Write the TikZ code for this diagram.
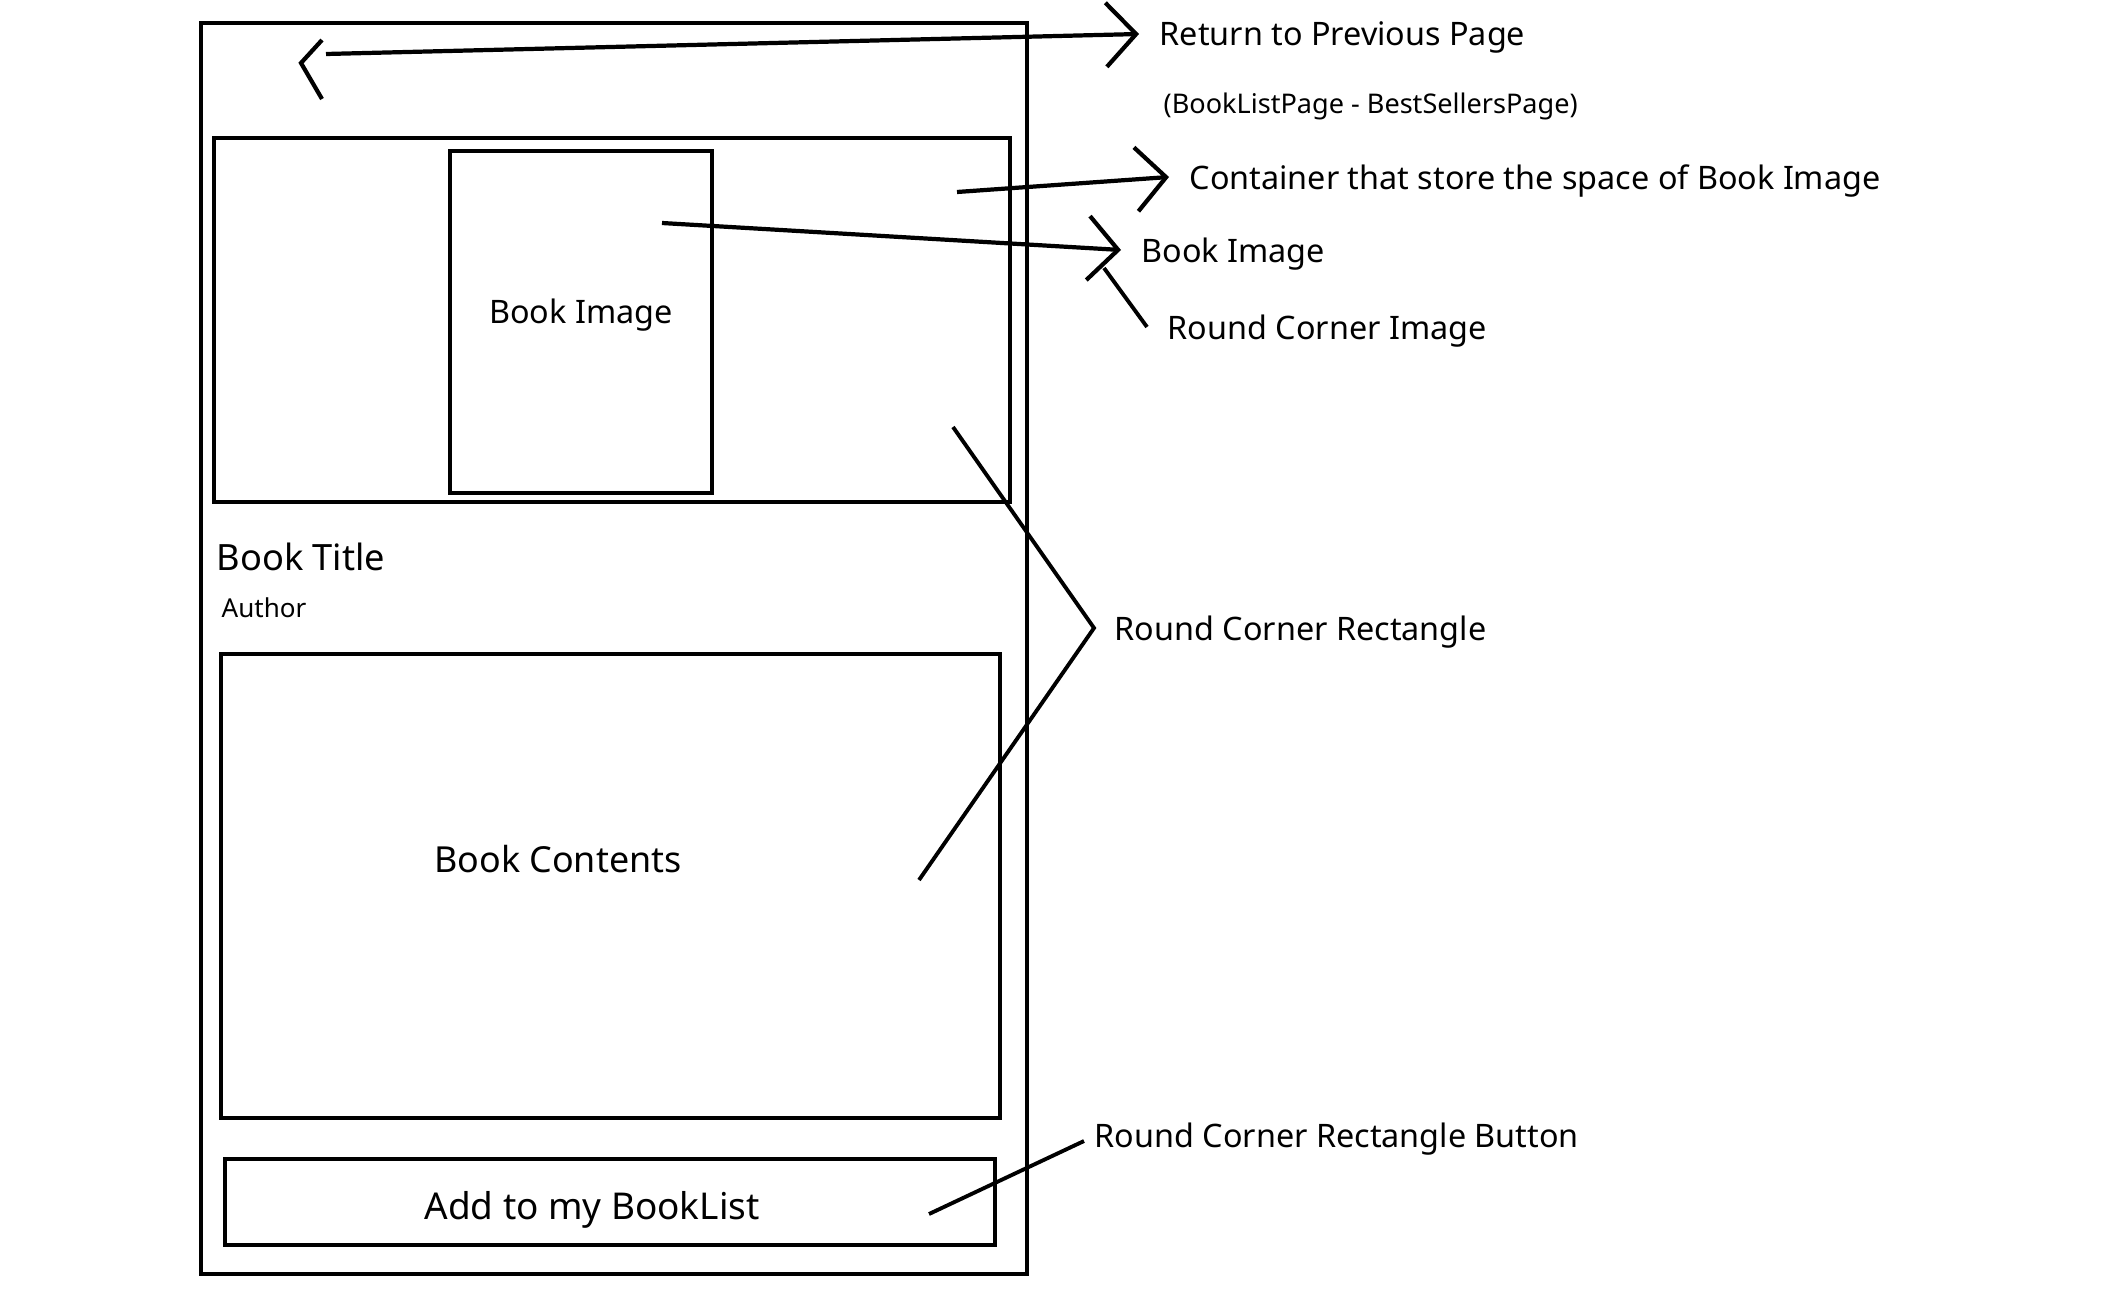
\documentclass[tikz,border=0pt]{standalone}
\usepackage{fontspec}
\setmainfont{Noto Sans}
\usetikzlibrary{arrows.meta}
\begin{document}
\begin{tikzpicture}[x=0.01cm,y=-0.01cm,
  box/.style={draw,line width=1.1pt,anchor=north west,inner sep=0pt},
  lbl/.style={anchor=west,inner xsep=0.2cm,inner ysep=0pt,text depth=0pt,font=\fontsize{9.2}{11}\selectfont},
  ptr/.style={line width=1.2pt,-{Straight Barb[length=0.3cm,width=0.64cm,line width=1.2pt]}},
  lead/.style={line width=1.1pt}]
  \useasboundingbox (0,0) rectangle (2104,1300);
  % phone screen
  \node[box,minimum width=8.26cm,minimum height=12.50cm] (phone) at (199,21) {};
  \draw[line width=1.2pt] (322,40) -- (301,63) -- (322,99);
  \node[box,minimum width=7.96cm,minimum height=3.64cm] (imgbox) at (212,136) {};
  \node[box,minimum width=2.62cm,minimum height=3.42cm] (bookimg) at (448,149) {};
  \node[font=\fontsize{9.2}{11}\selectfont] (bookimgtxt) at (581,315) {Book Image};
  \node[anchor=west,inner sep=0pt,font=\fontsize{10.3}{12}\selectfont] (title) at (216,557) {Book Title};
  \node[anchor=west,inner sep=0pt,font=\fontsize{7.4}{9}\selectfont] (author) at (221,608) {Author};
  \node[box,minimum width=7.79cm,minimum height=4.64cm] (contents) at (219,652) {};
  \node[font=\fontsize{10.2}{12}\selectfont] (contentstxt) at (558,859) {Book Contents};
  \node[box,minimum width=7.70cm,minimum height=0.86cm] (button) at (223,1157) {};
  \node[font=\fontsize{10.5}{12}\selectfont] (buttontxt) at (592,1210) {Add to my BookList};
  % labels
  \node[lbl] (ret) at (1139,34) {Return to Previous Page};
  \node[lbl,font=\fontsize{7.7}{9}\selectfont] (retsub) at (1143,103) {(BookListPage - BestSellersPage)};
  \node[lbl] (cont) at (1169,177) {Container that store the space of Book Image};
  \node[lbl] (img) at (1121,250) {Book Image};
  \node[lbl] (rci) at (1147,327) {Round Corner Image};
  \node[lbl] (rcr) at (1094,628) {Round Corner Rectangle};
  \node[lbl,inner xsep=0pt] (rcb) at (1094,1135) {Round Corner Rectangle Button};
  % pointers
  \coordinate (backfrom) at (326,54);
  \coordinate (contfrom) at (957,192);
  \coordinate (imgfrom) at (662,223);
  \coordinate (rcifrom) at (1104,268);
  \coordinate (rcrtop) at (953,427);
  \coordinate (rcrbot) at (919,880);
  \coordinate (rcbfrom) at (929,1214);
  \draw[ptr] (backfrom) -- (ret.west);
  \draw[ptr] (contfrom) -- (cont.west);
  \draw[ptr] (imgfrom) -- (img.west);
  \draw[lead] (rcifrom) -- (rci.west);
  \draw[lead] (rcrtop) -- (rcr.west) -- (rcrbot);
  \draw[lead] (rcbfrom) -- ([xshift=-0.1cm,yshift=-0.06cm]rcb.west);
\end{tikzpicture}
\end{document}
